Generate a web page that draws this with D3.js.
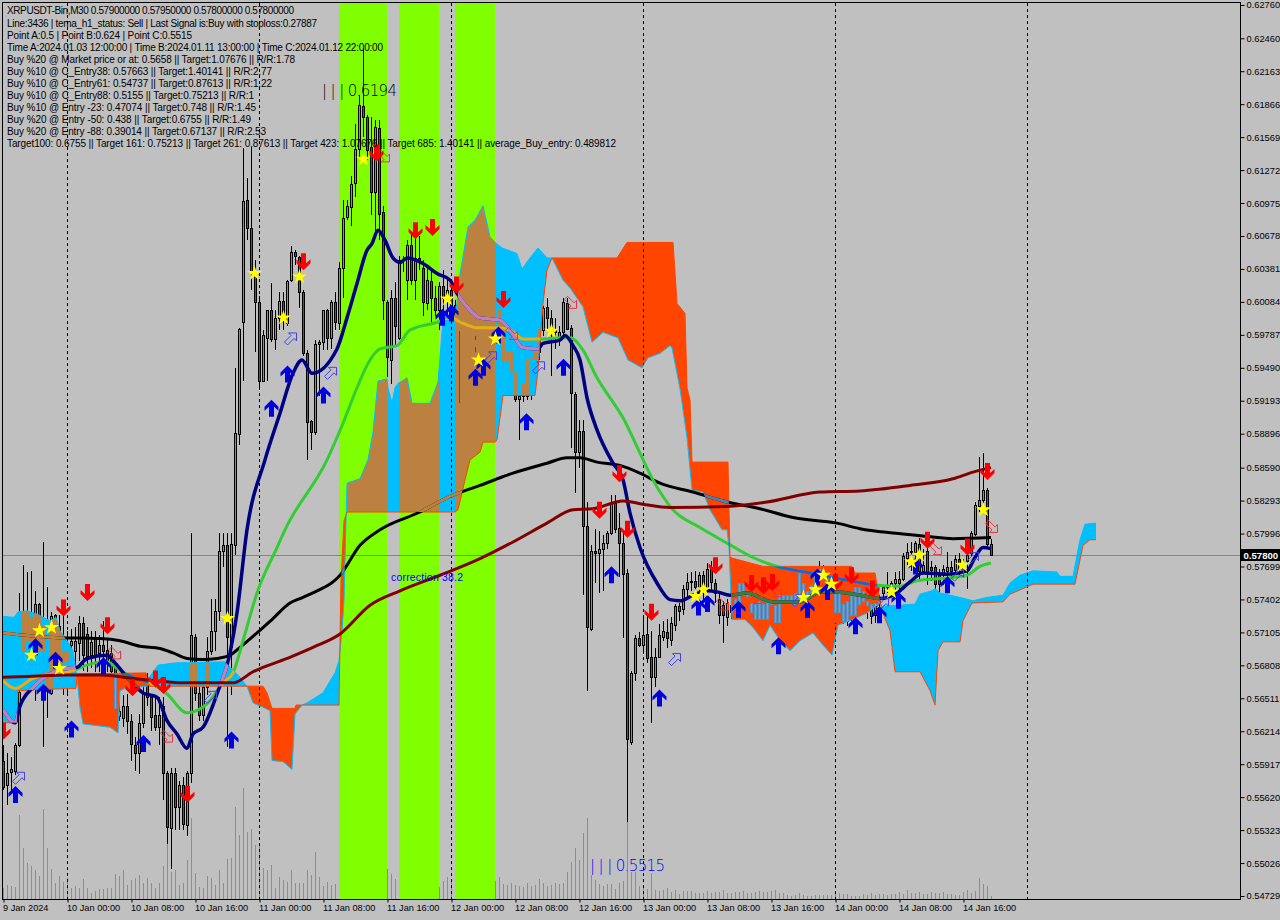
<!DOCTYPE html>
<html><head><meta charset="utf-8">
<script src="https://cdn.jsdelivr.net/npm/d3@7/dist/d3.min.js"></script>
<style>html,body{margin:0;padding:0;background:#C0C0C0;overflow:hidden}svg{display:block}
text{font-family:"Liberation Sans",Arial,sans-serif}</style></head><body>
<svg id="c" width="1280" height="920"></svg>
<script>
// Prices are in ten-thousandths (5780 = 0.5780). Bar 0 = 9 Jan 16:00, M30.
const open=[5595,5573,5585,5586,5609,5694,5729,5703,5703,5736,
5694,5658,5656,5726,5716,5684,5685,5699,5694,5701,
5719,5709,5690,5706,5692,5699,5695,5692,5678,5635,
5633,5644,5631,5609,5602,5629,5663,5652,5636,5625,
5644,5584,5534,5584,5553,5573,5537,5584,5706,5656,
5636,5661,5694,5712,5730,5784,5789,5697,5789,5889,
5990,6100,6075,6035,6008,5937,5976,6001,5975,5994,
6009,5989,6028,6053,6049,6017,5962,5901,5891,5970,
5972,6001,5976,6008,5989,6039,6085,6094,6116,6146,
6185,6175,6148,6107,6165,6089,6008,5956,6012,5976,
6044,6028,6060,6028,6048,6039,6007,6027,6012,6001,
6023,6012,6019,6006,5994,5983,5974,5965,5969,5974,
5983,5969,5965,5974,5974,5989,5956,5963,5945,5921,
5924,5924,5957,5957,5963,5983,6004,5994,5981,5975,
5981,6007,5985,5925,5873,5892,5806,5714,5784,5782,
5786,5791,5800,5827,5805,5791,5764,5612,5674,5705,
5699,5709,5688,5670,5688,5706,5711,5704,5717,5734,
5732,5750,5756,5757,5751,5762,5751,5768,5755,5741,
5735,5724,5729,5735,5730,5748,5746,5737,5736,5723,
5736,5723,5739,5720,5720,5744,5739,5744,5736,5739,
5755,5748,5742,5753,5762,5768,5759,5755,5748,5729,
5736,5721,5746,5726,5751,5739,5739,5736,5726,5737,
5746,5751,5753,5755,5755,5759,5778,5783,5783,5790,
5766,5784,5769,5769,5762,5762,5766,5769,5767,5777,
5768,5775,5782,5799,5824,5830,5839,5790];
const high=[5609,5602,5598,5611,5746,5771,5765,5766,5748,5737,
5792,5751,5729,5727,5726,5730,5712,5714,5715,5725,
5724,5715,5712,5712,5708,5721,5705,5699,5681,5649,
5654,5655,5637,5616,5637,5661,5674,5655,5652,5652,
5652,5586,5588,5588,5577,5580,5586,5800,5709,5661,
5667,5706,5741,5741,5800,5800,5800,5800,5949,5985,
6147,6120,6148,6046,6014,5983,6001,6025,6001,6017,
6017,6028,6059,6055,6050,6019,5965,5902,5974,5974,
6001,6002,6010,6017,6044,6100,6100,6122,6169,6195,
6237,6177,6175,6172,6172,6095,6010,6019,6026,6050,
6050,6064,6071,6068,6068,6046,6039,6037,6023,6026,
6037,6028,6028,6010,5994,5988,5978,5974,5978,5992,
5983,5974,5978,5983,6003,5996,5965,5966,5951,5929,
5937,5963,5965,5974,5984,6005,6012,6001,5994,5987,
6012,6012,5988,5927,5902,5902,5828,5789,5804,5802,
5798,5802,5834,5834,5818,5802,5768,5676,5708,5711,
5726,5726,5712,5696,5718,5721,5723,5724,5736,5737,
5753,5764,5765,5766,5765,5766,5773,5775,5759,5748,
5739,5741,5739,5748,5762,5766,5757,5748,5744,5744,
5743,5748,5744,5739,5748,5748,5748,5750,5748,5766,
5762,5757,5757,5766,5775,5771,5766,5762,5753,5748,
5741,5748,5753,5757,5755,5753,5744,5739,5741,5744,
5753,5765,5757,5765,5766,5782,5791,5792,5793,5796,
5786,5789,5775,5771,5768,5771,5783,5775,5780,5782,
5777,5783,5802,5828,5869,5872,5841,5795];
const low=[5568,5555,5565,5582,5607,5683,5685,5658,5649,5667,
5607,5633,5654,5676,5667,5654,5654,5675,5678,5685,
5676,5675,5678,5675,5675,5681,5675,5667,5622,5631,
5625,5619,5595,5586,5583,5624,5644,5622,5622,5609,
5559,5520,5497,5532,5532,5532,5527,5575,5649,5631,
5631,5654,5690,5694,5721,5769,5607,5654,5780,5879,
5937,6064,6019,5963,5930,5936,5937,5972,5965,5983,
5983,5987,6026,6042,6003,5960,5866,5875,5888,5924,
5965,5965,5966,5983,5983,6012,6082,6077,6103,6138,
6157,6136,6087,6069,6064,5992,5941,5934,5969,5974,
6035,6010,6024,6010,6037,5996,6001,5990,5996,5983,
6001,5996,5992,5990,5917,5969,5960,5956,5963,5965,
5963,5951,5960,5963,5969,5951,5945,5942,5918,5884,
5918,5920,5920,5937,5956,5978,5983,5942,5966,5969,
5976,5983,5877,5836,5859,5744,5658,5712,5755,5746,
5748,5786,5798,5800,5760,5705,5540,5609,5667,5697,
5694,5683,5629,5661,5687,5703,5696,5698,5712,5721,
5726,5742,5748,5747,5744,5739,5748,5748,5737,5718,
5701,5716,5723,5726,5726,5739,5739,5721,5716,5714,
5721,5716,5721,5716,5714,5735,5735,5730,5730,5735,
5739,5735,5739,5748,5753,5748,5748,5744,5719,5723,
5718,5716,5721,5721,5730,5726,5723,5718,5719,5730,
5741,5746,5746,5748,5748,5757,5771,5766,5775,5759,
5763,5753,5757,5750,5746,5753,5759,5759,5762,5762,
5765,5750,5779,5797,5819,5820,5788,5780];
const close=[5571,5584,5587,5609,5657,5729,5703,5724,5736,5694,
5716,5676,5725,5681,5684,5694,5694,5703,5703,5719,
5690,5689,5702,5689,5699,5694,5684,5676,5642,5640,
5644,5631,5610,5602,5629,5655,5652,5634,5625,5636,
5584,5535,5584,5553,5573,5538,5584,5708,5656,5636,
5661,5694,5712,5730,5784,5789,5706,5790,5890,5984,
6099,6075,6035,6008,5937,5979,6001,5975,5994,6009,
5994,6027,6053,6050,6017,5962,5900,5891,5970,5972,
6001,5976,6008,5990,6039,6084,6095,6115,6146,6186,
6175,6145,6107,6166,6088,6010,5959,6012,5987,6046,
6044,6060,6028,6048,6044,6008,6028,6012,6001,6023,
6012,6019,6006,5994,5983,5974,5965,5969,5974,5983,
5969,5965,5974,5978,6001,5956,5963,5946,5921,5924,
5935,5957,5958,5963,5983,6003,5994,5981,5983,5981,
6008,5984,5926,5873,5892,5806,5715,5784,5782,5786,
5791,5800,5827,5804,5791,5763,5614,5674,5705,5699,
5708,5687,5670,5688,5708,5712,5705,5719,5734,5730,
5750,5756,5757,5751,5762,5751,5768,5756,5746,5726,
5726,5737,5735,5741,5755,5755,5743,5729,5723,5739,
5723,5739,5736,5735,5744,5739,5744,5739,5746,5764,
5748,5742,5753,5762,5768,5759,5755,5748,5729,5746,
5721,5739,5726,5751,5736,5748,5735,5725,5737,5739,
5751,5753,5755,5759,5759,5779,5783,5784,5791,5766,
5771,5765,5767,5754,5754,5768,5769,5766,5777,5768,
5771,5780,5800,5825,5830,5839,5790,5780];
const volume=[11,14,13,12,84,51,36,33,29,23,90,51,30,16,23,17,21,
11,13,11,20,11,6,8,10,10,11,11,
25,23,29,14,19,21,24,16,21,16,11,16,33,59,27,29,14,16,39,81,
26,12,11,23,21,14,29,16,40,41,92,64,111,67,70,54,54,31,29,34,11,22,19,17,29,16,16,16,29,24,47,22,13,17,14,
15,20,30,40,35,25,45,30,60,40,35,55,40,30,25,20,25,30,22,25,18,20,15,25,20,15,12,18,22,18,25,15,20,15,18,22,30,25,20,25,18,22,
15,14,16,14,13,12,16,13,14,20,16,13,14,16,15,
16,27,37,51,39,66,81,24,19,15,13,15,15,10,16,18,78,27,27,13,14,10,26,9,8,9,11,7,9,5,8,8,8,6,6,6,8,6,7,7,9,6,
6,7,7,8,6,6,7,8,7,7,8,9,6,6,4,3,4,6,4,3,3,4,4,4,4,4,6,6,5,5,3,3,3,5,4,6,4,5,5,4,5,5,7,5,9,6,6,7,5,5,7,6,6,7,5,5,4,4,7,9,6,8,21,15,13,3];

const navyIdx=[0,3,4.25,7.5,10,13.5,16,18.5,21,26,28,31.75,35,38.5,41,43.5,46,47.5,50,53.5,56.75,58.5,61,65.5,69.25,72.5,74.75,77.25,83.5,86,88.5,91,92.25,93.75,95.5,97.5,99.25,101,105,108.5,111.75,113.5,116,119.25,124.25,126.75,130,133.75,135,139.25,140.5,142.5,144.25,146,148.5,152.5,155,156.75,159.25,163.5,166.75,169.25,172.5,176,178.5,181.75,186,192.5,199.25,204.25,208.5,214.25,219.25,223.5,226.75,230,236,241,243,245,247];
const navyVal=[5641,5629,5644,5661,5669,5676,5678,5679,5687,5690,5683,5667,5656,5652,5631,5619,5606,5619,5625,5655,5692,5728,5803,5866,5908,5944,5956,5944,5966,5994,6025,6055,6061,6073,6064,6048,6044,6048,6043,6034,6028,6016,6004,5994,5992,5983,5967,5966,5971,5974,5978,5969,5956,5922,5893,5863,5848,5818,5787,5755,5740,5739,5744,5748,5747,5744,5746,5738,5738,5747,5747,5744,5741,5746,5756,5764,5763,5766,5778,5787,5786];
const blackIdx=[0,12.5,24.25,29.25,34.25,39.25,42.5,46,50,53.5,56.75,59.25,63.5,67.5,71.75,74.25,78.5,82.5,84.25,89.25,94.25,104.25,111.75,119.25,127.5,136,141,144.25,148.5,154.25,159.25,164.25,172.5,181,189.25,197.5,208.5,214.25,222.5,231,237.5,247];
const blackVal=[5710,5706,5705,5703,5698,5696,5692,5687,5686,5687,5690,5697,5710,5723,5737,5741,5748,5756,5762,5789,5803,5819,5833,5843,5854,5863,5868,5868,5864,5861,5854,5845,5837,5828,5822,5814,5809,5804,5800,5797,5795,5796];
const maroonIdx=[0,7.5,16,24.25,32.5,41,45,57.5,62.5,71,77.5,84.25,91.75,99.25,109.25,119.25,127.5,136,142.5,147.5,155,160,166.75,181,191,204.25,214.25,226.75,237.5,242.5,247];
const maroonVal=[5670,5671,5672,5672,5669,5666,5665,5665,5675,5687,5697,5709,5735,5748,5762,5777,5792,5809,5821,5822,5829,5826,5823,5824,5828,5837,5838,5843,5849,5855,5859];
const limeIdx=[0,3,7.5,17.5,21,26,28.5,32.5,36.75,41,46,51,55,57.5,60,63.5,68.5,70.5,81,85,88.5,91.75,94.25,98.5,101.75,108.5,111.75,115,118.5,123.5,126.75,130,133.75,139.25,141.75,145,148.5,152.5,155,159.25,162.5,167.5,174.25,181,187.5,193.5,201.75,211.75,218.5,224.25,228.5,237.5,241,244.25,247];
const limeVal=[5667,5660,5669,5676,5681,5684,5678,5670,5665,5655,5638,5646,5665,5674,5703,5746,5787,5803,5866,5899,5931,5956,5966,5969,5983,5990,5994,5989,5985,5985,5983,5975,5975,5976,5976,5965,5940,5918,5904,5872,5848,5821,5805,5791,5778,5770,5764,5757,5753,5752,5757,5760,5762,5770,5773];

const spanAIdx=[0,2.75,3.75,6,8.5,11.75,13.25,14.25,16,17.5,18.25,18.75,19.25,20,26.75,28.75,29.25,30.5,36,36.75,38.75,43,55.5,59.25,61,62.5,65,66.75,67.25,70,72.25,73,74.75,76,80,83,84,84.75,85.25,85.75,86,89.25,91.25,92.5,93.75,96,96.25,97.25,98,98.75,99.75,101,102.25,106.75,108.75,110,113,113.5,114.25,115,116.25,118,120,121.75,123,124.75,128.5,129.75,131.75,133.75,136,137.25,140,141.75,145,147.25,150,153.75,156.25,159.75,161.25,164.25,166.75,167.25,169.25,171,172.25,175,176.75,179.75,181,181.5,182.25,185.5,187.5,190,191.75,193.75,196.75,199.25,202.5,205,207.25,208.75,213,216,219.25,219.75,228,229.25,232.25,233,234.25,239.25,242.5,246,250,251.75,254.25,257.5,263.5,264.25,267.5,269.25,270.5,273.25];
const spanAVal=[5725,5724,5729,5730,5727,5721,5724,5712,5703,5694,5676,5661,5643,5628,5625,5620,5658,5660,5662,5671,5681,5683,5684,5670,5662,5647,5643,5640,5595,5594,5587,5637,5645,5647,5656,5674,5685,5712,5739,5811,5845,5849,5866,5891,5937,5939,5931,5917,5931,5935,5937,5940,5917,5917,5936,5992,5996,6007,6034,6049,6076,6082,6095,6067,6062,6057,6052,6038,6048,6057,6048,6048,6028,6021,6004,5972,5981,5976,5956,5949,5958,5962,5969,5967,5930,5886,5839,5837,5821,5803,5803,5787,5722,5722,5715,5703,5717,5706,5694,5703,5710,5699,5690,5717,5723,5728,5737,5734,5736,5745,5748,5750,5746,5742,5739,5742,5744,5755,5762,5766,5765,5761,5761,5794,5808,5809];
const spanBIdx=[0,3.5,3.75,16.75,18.25,18.5,35.75,36.5,65,66,67.25,73,73.25,84,84.5,85.25,86,113,113.75,115.5,116.75,119.25,120,123,123.5,125,133,133.75,135,136,137.25,153.5,156,167.5,168.5,170.5,171,171.75,172.25,181.25,181.75,190,212.25,213,218,219.25,219.75,221.75,223,229.25,231.75,233,233.75,235,239.25,240,242.25,250,251.75,255,257.5,268,270,271.75,273.25];
const spanBVal=[5629,5629,5658,5660,5660,5673,5674,5662,5662,5656,5642,5642,5645,5645,5757,5811,5819,5819,5821,5848,5866,5873,5882,5882,5884,5924,5924,5947,6007,6037,6048,6048,6062,6062,6007,5998,5931,5920,5864,5864,5778,5770,5770,5764,5764,5739,5730,5712,5675,5675,5658,5645,5694,5702,5702,5721,5737,5738,5745,5750,5754,5754,5789,5794,5794];

const bandStart=[84,99,113], bandEnd=[96,109,123];
const darkWickBars=[114,118];

const upIdx=[3,8,13,10,17,25,35,57,67,71,80,109.75,112,118,120,123.75,130.75,140,152,164,173.75,176,183.75,193.75,201,203.5,206,213,219,223.75,228,236];
const upVal=[5564,5697,5685,5656,5623,5680,5610,5613,5912,5943,5924,5994,5998,5940,5949,5978,5900,5949,5762,5651,5733,5736,5731,5698,5731,5760,5747,5716,5726,5739,5770,5753];
const downIdx=[0,15,21,26,32.25,38,40,46,75,93.25,103,107.25,113.25,125,149,154,156,162,178,187,190,192.25,208,212,217.25,231,241,246];
const downVal=[5622,5733,5747,5717,5661,5669,5663,5565,6045,6143,6073,6076,6024,6011,5821,5854,5804,5729,5771,5755,5753,5756,5756,5762,5750,5794,5788,5856];
const starIdx=[7,9,12,14,56,62.75,70,74,90,111,118.75,123,137,173,175,200,203,205,207,222,227,229,239.75,245];
const starVal=[5690,5712,5715,5678,5723,6034,5994,6031,6137,6011,5956,5975,5982,5743,5749,5742,5749,5762,5754,5747,5774,5780,5771,5821];
const crossIdx=[22,30,34,39,45,47,78,98,104,116,130,148,155,158,163,181,189,191,210,218,235];
const crossVal=[5696,5660,5616,5640,5574,5590,5917,6025,6059,5957,5932,5790,5791,5681,5697,5728,5734,5740,5739,5740,5768];
const openBlueIdx=[3.75,51.75,71.75,81.75,121.75,133.75,167.75,198.5,219.75,238.5,242.25];
const openBlueVal=[5579,5652,5975,5944,5958,5949,5686,5739,5736,5762,5777];
const openRedIdx=[27.75,40.75,95,127,141.75,179.75,188,193,233,247];
const openRedVal=[5692,5617,6140,5980,6008,5736,5742,5748,5786,5806];

const priceTicks=[0.62760,0.62460,0.62163,0.61866,0.61569,0.61272,0.60975,0.60678,0.60381,0.60084,0.59787,0.59490,0.59193,0.58896,0.58590,0.58293,0.57996,0.57699,0.57402,0.57105,0.56808,0.56511,0.56214,0.55917,0.55620,0.55323,0.55026,0.54729];
const timeLabels=["9 Jan 2024","10 Jan 00:00","10 Jan 08:00","10 Jan 16:00","11 Jan 00:00","11 Jan 08:00","11 Jan 16:00","12 Jan 00:00","12 Jan 08:00","12 Jan 16:00","13 Jan 00:00","13 Jan 08:00","13 Jan 16:00","14 Jan 00:00","14 Jan 08:00","14 Jan 16:00"];
const dayBreaks=[16,64,112,160,208,256];
const lastPrice=0.578;
const infoLines=["XRPUSDT-Bin,M30  0.57900000 0.57950000 0.57800000 0.57800000",
"Line:3436 | tema_h1_status: Sell | Last Signal is:Buy with stoploss:0.27887",
"Point A:0.5 | Point B:0.624 | Point C:0.5515",
"Time A:2024.01.03 12:00:00 | Time B:2024.01.11 13:00:00 | Time C:2024.01.12 22:00:00",
"Buy %20 @ Market price or at: 0.5658 || Target:1.07676 || R/R:1.78",
"Buy %10 @ C_Entry38: 0.57663 || Target:1.40141 || R/R:2.77",
"Buy %10 @ C_Entry61: 0.54737 || Target:0.87613 || R/R:1.22",
"Buy %10 @ C_Entry88: 0.5155 || Target:0.75213 || R/R:1",
"Buy %10 @ Entry -23: 0.47074 || Target:0.748 || R/R:1.45",
"Buy %20 @ Entry -50: 0.438 || Target:0.6755 || R/R:1.49",
"Buy %20 @ Entry -88: 0.39014 || Target:0.67137 || R/R:2.53",
"Target100: 0.6755 || Target 161: 0.75213 || Target 261: 0.87613 || Target 423: 1.07676 || Target 685: 1.40141 || average_Buy_entry: 0.489812"];
const infoWidths=[287,310,185,376,288,265,265,247,249,244,259,609];

const svg=d3.select("#c");
const L=3,R=1240,T=3,B=899;
const x=d3.scaleLinear().domain([0,247]).range([3,991]);
const y=d3.scaleLinear().domain([0.6276,0.54729]).range([5,896]);
const yp=v=>y(v/1e4);
const yVol=d3.scaleLinear().domain([0,100]).range([B,B-100]);
const defs=svg.append("defs");
svg.append("rect").attr("width",1280).attr("height",920).attr("fill","#C0C0C0");
defs.append("clipPath").attr("id","plot").append("rect").attr("x",L).attr("y",T).attr("width",R-L).attr("height",B-T);
const plot=svg.append("g").attr("clip-path","url(#plot)");

// volume sits under the session bands
plot.selectAll("line.vol").data(volume).join("line").attr("class","vol")
 .attr("x1",(d,i)=>x(i)+.5).attr("x2",(d,i)=>x(i)+.5).attr("y1",B).attr("y2",d=>yVol(d)).attr("stroke","#32CD32");

// lime session bands
const bands=d3.range(bandStart.length);
plot.selectAll("rect.band").data(bands).join("rect").attr("class","band")
 .attr("x",d=>x(bandStart[d])).attr("width",d=>x(bandEnd[d])-x(bandStart[d])).attr("y",T).attr("height",B-T).attr("fill","#7FFF00");
defs.append("clipPath").attr("id","bands").selectAll("rect").data(bands).join("rect")
 .attr("x",d=>x(bandStart[d])).attr("width",d=>x(bandEnd[d])-x(bandStart[d])).attr("y",T).attr("height",B-T);

// ichimoku cloud
const spanA=d3.scaleLinear().domain(spanAIdx).range(spanAVal);
const spanB=d3.scaleLinear().domain(spanBIdx).range(spanBVal);
const steps=d3.range(0,273.26,0.25);
const area=d3.area().x(d=>x(d)).y0(d=>yp(spanA(d))).y1(d=>yp(spanB(d)));
const blueD=area.defined(d=>spanA(d)>=spanB(d))(steps);
const orangeD=area.defined(d=>spanA(d)<=spanB(d))(steps);
defs.append("clipPath").attr("id","blueZone").append("path").attr("d",blueD);
defs.append("clipPath").attr("id","orangeZone").append("path").attr("d",orangeD);
plot.append("path").attr("d",blueD).attr("fill","#00BFFF");
plot.append("path").attr("d",orangeD).attr("fill","#FF4500");
plot.append("g").attr("clip-path","url(#bands)").append("path").attr("d",blueD).attr("fill","#BC8040");

// day separators
plot.selectAll("line.day").data(dayBreaks).join("line").attr("class","day")
 .attr("x1",d=>x(d)+.5).attr("x2",d=>x(d)+.5).attr("y1",T).attr("y2",B)
 .attr("stroke","#000").attr("stroke-dasharray","3,3");

// last price line
plot.append("line").attr("x1",L).attr("x2",R).attr("y1",Math.round(y(lastPrice))+.5).attr("y2",Math.round(y(lastPrice))+.5).attr("stroke","#778899");

// candles
function candles(parent,wick,bull,bear,edge){
  const g=parent.append("g").attr("shape-rendering","crispEdges");
  g.selectAll("line").data(open).join("line")
   .attr("x1",(d,i)=>x(i)+.5).attr("x2",(d,i)=>x(i)+.5)
   .attr("y1",(d,i)=>yp(high[i])).attr("y2",(d,i)=>yp(low[i]))
   .attr("stroke",(d,i)=>typeof wick==="function"?wick(i):wick);
  g.selectAll("rect").data(open).join("rect")
   .attr("x",(d,i)=>x(i)-.5).attr("width",2)
   .attr("y",(d,i)=>Math.round(yp(Math.max(open[i],close[i])))+.5)
   .attr("height",(d,i)=>Math.abs(Math.round(yp(open[i]))-Math.round(yp(close[i]))))
   .attr("fill",(d,i)=>close[i]>=open[i]?bull:bear).attr("stroke",edge);
}
candles(plot,"#000","#2FC27A","#C8204A","#000");
const blueG=plot.append("g").attr("clip-path","url(#blueZone)");
candles(blueG,"#BC8040","#BC8040","#BC8040","#BC8040");
candles(blueG.append("g").attr("clip-path","url(#bands)"),i=>darkWickBars.includes(i)?"#3A6A10":"#BC8040","#BC8040","#BC8040","#BC8040");
candles(plot.append("g").attr("clip-path","url(#orangeZone)"),"#4A7FB0","#FF7A30","#FF7A30","#5A8FC0");

// cloud edges
const poly=(xs,vs,curve)=>d3.line().curve(curve||d3.curveLinear).x((d,i)=>x(xs[i])).y((d,i)=>yp(vs[i]))(vs);
plot.append("path").attr("d",poly(spanAIdx,spanAVal)).attr("fill","none").attr("stroke","#00BFFF");
plot.append("path").attr("d",poly(spanBIdx,spanBVal)).attr("fill","none").attr("stroke","#FF4500");

// moving averages
const drawLine=(p,xs,vs,c,w)=>p.append("path").attr("d",poly(xs,vs,d3.curveMonotoneX)).attr("fill","none").attr("stroke",c).attr("stroke-width",w||3).attr("stroke-linejoin","round");
drawLine(plot,blackIdx,blackVal,"#000");
drawLine(plot,limeIdx,limeVal,"#32CD32");
drawLine(plot,navyIdx,navyVal,"#000080",3.5);
const lb=plot.append("g").attr("clip-path","url(#blueZone)");
drawLine(lb,blackIdx,blackVal,"#BC8040");
drawLine(lb,limeIdx,limeVal,"#F0A818");
drawLine(lb,navyIdx,navyVal,"#C080C0",3.5);
const lo=plot.append("g").attr("clip-path","url(#orangeZone)");
drawLine(lo,blackIdx,blackVal,"#4682B4");
drawLine(lo,limeIdx,limeVal,"#2060E0");
drawLine(lo,navyIdx,navyVal,"#3C7C3C",3.5);
drawLine(plot,maroonIdx,maroonVal,"#800000");

// markers
const upArrow="M0,-9L7,-2L7,2L2.5,-2L2.5,8L-2.5,8L-2.5,-2L-7,2L-7,-2Z";
const downArrow="M0,9L7,2L7,-2L2.5,2L2.5,-8L-2.5,-8L-2.5,2L-7,-2L-7,2Z";
const openUp="M6,-6L6,2L3.5,-.5L-3,6L-6,3L.5,-3.5L-2,-6Z";
const openDown="M6,6L6,-2L3.5,.5L-3,-6L-6,-3L.5,3.5L-2,6Z";
function marks(xs,vs,d,fill,stroke){
  plot.append("g").selectAll("path").data(vs).join("path").attr("d",d)
   .attr("transform",(v,i)=>`translate(${x(xs[i])+.5},${yp(v)})`)
   .attr("fill",fill).attr("stroke",stroke||"none");
}
marks(crossIdx,crossVal,d3.symbol(d3.symbolX,42)(),"#FFA500");
marks(openBlueIdx,openBlueVal,openUp,"none","#4040F0");
marks(openRedIdx,openRedVal,openDown,"none","#F03040");
marks(upIdx,upVal,upArrow,"#0000E0");
marks(downIdx,downVal,downArrow,"#FF0000");
marks(starIdx,starVal,d3.symbol(d3.symbolStar,70)(),"#FFFF00");

// frame
svg.append("rect").attr("x",2.5).attr("y",2.5).attr("width",R-2).attr("height",B-2).attr("fill","none").attr("stroke","#000");

// axes
const yAxis=d3.axisRight(y).tickValues(priceTicks).tickFormat(d3.format(".5f")).tickSize(4).tickPadding(2);
const ya=svg.append("g").attr("transform",`translate(${R+.5},0)`).call(yAxis);
ya.select(".domain").remove();
ya.selectAll("text").attr("font-size",9.3).attr("font-family","Liberation Sans").attr("fill","#000");
const xAxis=d3.axisBottom(x).tickValues(timeLabels.map((d,i)=>i*16)).tickFormat((d,i)=>timeLabels[i]).tickSize(3).tickPadding(2);
const xa=svg.append("g").attr("transform",`translate(.5,${B+.5})`).call(xAxis);
xa.select(".domain").remove();
xa.selectAll("text").attr("text-anchor","start").attr("font-size",9.2).attr("font-family","Liberation Sans").attr("fill","#000").attr("dx",-1);

// last price tag
svg.append("rect").attr("x",R+1).attr("y",Math.round(y(lastPrice))-6).attr("width",39).attr("height",12).attr("fill","#000");
svg.append("text").attr("x",R+3.5).attr("y",Math.round(y(lastPrice))+4).attr("font-size",9.6).attr("font-weight","bold").attr("fill","#fff").text(d3.format(".5f")(lastPrice));

// info text
svg.append("g").selectAll("text").data(infoLines).join("text")
 .attr("x",7).attr("y",(d,i)=>(i==0?14:27+(i-1)*12)-.5)
 .attr("font-size",10).attr("fill","#000").attr("textLength",(d,i)=>infoWidths[i]).attr("lengthAdjust","spacing").text(d=>d);

// chart labels
const thin=(s,xp,yb,c)=>svg.append("text").attr("x",xp).attr("y",yb).attr("font-size",15).attr("font-weight",200).style("font-family","'DejaVu Sans'").attr("textLength",75).attr("fill",c).text(s);
thin("| | | 0.6194",322,96,"#000");
thin("| | | 0.5515",590,871,"#0000FF");
svg.append("text").attr("x",391).attr("y",581).attr("font-size",10.5).attr("fill","#0000FF").attr("textLength",72).text("correction 38.2");
</script></body></html>
